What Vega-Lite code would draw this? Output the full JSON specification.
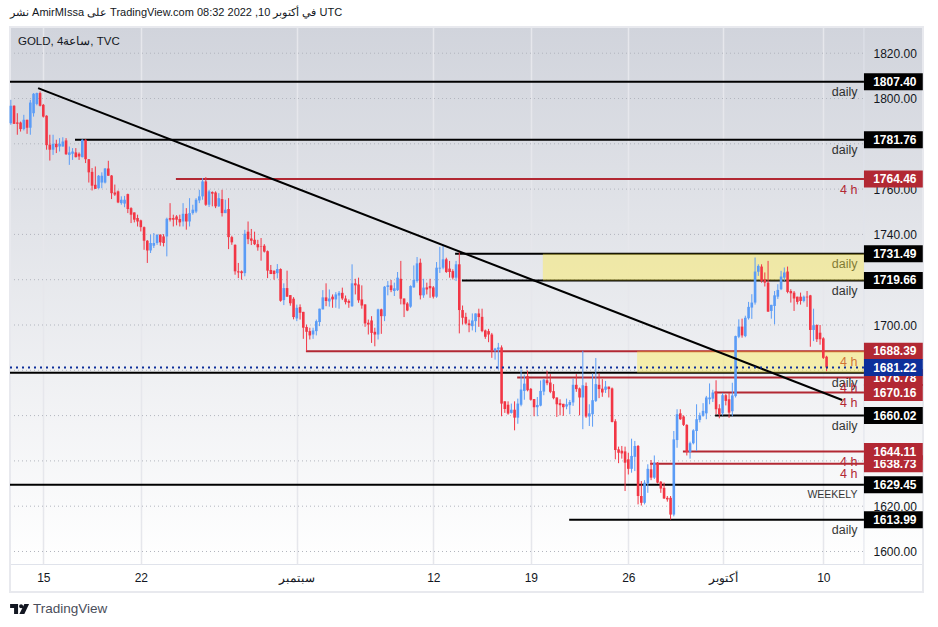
{
"$schema":"https://vega.github.io/schema/vega-lite/v6.json",
"width":913,"height":537,
"autosize":"none",
"padding":{"left":10,"top":27,"right":15,"bottom":63},
"background":"#ffffff",
"view":{"stroke":"#e0e3eb","fill":{"gradient":"linear","x1":0,"y1":0,"x2":0,"y2":1,"stops":[{"offset":0,"color":"#d1d4dc"},{"offset":1,"color":"#ffffff"}]}},
"config":{"font":"Liberation Sans"},
"title":{"text":"نشر AmirMIssa على TradingView.com 08:32 2022 ,10 في أكتوبر UTC","anchor":"start","frame":"group","offset":8,"fontSize":11,"fontWeight":"normal","color":"#131722"},
"datasets":{
"grid":[{"p":1600},{"p":1620},{"p":1640},{"p":1660},{"p":1680},{"p":1700},{"p":1720},{"p":1740},{"p":1760},{"p":1780},{"p":1800},{"p":1820}],
"levels":[
{"p":1807.40,"from":-10.25,"kind":"daily"},
{"p":1781.76,"from":9.75,"kind":"daily"},
{"p":1764.46,"from":40.8,"kind":"4 h"},
{"p":1731.49,"from":126.7,"kind":"daily"},
{"p":1719.66,"from":128.8,"kind":"daily"},
{"p":1688.39,"from":80.8,"kind":"4 h"},
{"p":1678.90,"from":-10.25,"kind":"daily"},
{"p":1676.78,"from":145.8,"kind":"4 h"},
{"p":1670.16,"from":206.5,"kind":"4 h"},
{"p":1660.02,"from":206.7,"kind":"daily"},
{"p":1644.11,"from":196.8,"kind":"4 h"},
{"p":1638.73,"from":186.7,"kind":"4 h"},
{"p":1629.45,"from":-10.25,"kind":"WEEKELY"},
{"p":1613.99,"from":161.8,"kind":"daily"}],
"boxes":[{"from":153.7,"top":1731.49,"bottom":1719.66},{"from":182.7,"top":1688.39,"bottom":1678.90}],
"tagsLow":[{"p":1676.78,"kind":"4 h"},{"p":1638.73,"kind":"4 h"}],
"tagsHigh":[
{"p":1807.40,"kind":"daily"},{"p":1781.76,"kind":"daily"},{"p":1764.46,"kind":"4 h"},{"p":1731.49,"kind":"daily"},{"p":1719.66,"kind":"daily"},
{"p":1688.39,"kind":"4 h"},{"p":1670.16,"kind":"4 h"},{"p":1681.22,"kind":"last"},{"p":1660.02,"kind":"daily"},{"p":1644.11,"kind":"4 h"},{"p":1629.45,"kind":"WEEKELY"},{"p":1613.99,"kind":"daily"}],
"candles":[
{"i":-10,"o":1789.1,"h":1799.4,"l":1788.4,"c":1796.8},{"i":-9,"o":1796.8,"h":1797,"l":1788.8,"c":1788.8},{"i":-8,"o":1789.4,"h":1793.5,"l":1784,"c":1788.8},{"i":-7,"o":1789.4,"h":1789.8,"l":1785.4,"c":1786.5},{"i":-6,"o":1786.5,"h":1792.8,"l":1785.9,"c":1790.6},{"i":-5,"o":1790.6,"h":1790.6,"l":1784.4,"c":1787.1},{"i":-4,"o":1787.1,"h":1799.4,"l":1784,"c":1798.2},{"i":-3,"o":1793.5,"h":1802.4,"l":1792,"c":1802.1},{"i":-2,"o":1797.6,"h":1802.6,"l":1797,"c":1802.4},{"i":-1,"o":1802.4,"h":1803.1,"l":1796.5,"c":1796.8},
{"i":0,"o":1797.2,"h":1797.6,"l":1791.6,"c":1792},{"i":1,"o":1792.4,"h":1792.6,"l":1777.4,"c":1779.4},{"i":2,"o":1779.6,"h":1784,"l":1772.6,"c":1777.4},{"i":3,"o":1777.4,"h":1784,"l":1775.1,"c":1780},{"i":4,"o":1780,"h":1781.8,"l":1775.9,"c":1778.5},{"i":5,"o":1778.8,"h":1782.5,"l":1776.6,"c":1780},{"i":6,"o":1778.8,"h":1782.9,"l":1778.8,"c":1781},{"i":7,"o":1781.5,"h":1782.5,"l":1775.1,"c":1775.4},{"i":8,"o":1775.1,"h":1778.8,"l":1770.7,"c":1776.2},{"i":9,"o":1775.6,"h":1778.1,"l":1772.9,"c":1776.6},
{"i":10,"o":1776.2,"h":1778.1,"l":1774,"c":1774.1},{"i":11,"o":1775.6,"h":1776.2,"l":1772.9,"c":1774.4},{"i":12,"o":1774.1,"h":1782,"l":1774,"c":1781.8},{"i":13,"o":1781.8,"h":1782,"l":1771.5,"c":1773.2},{"i":14,"o":1773.2,"h":1773.2,"l":1762.9,"c":1767.4},{"i":15,"o":1767.6,"h":1769.3,"l":1759.4,"c":1761.5},{"i":16,"o":1761.9,"h":1770,"l":1760.1,"c":1760.1},{"i":17,"o":1760.4,"h":1766.2,"l":1760.2,"c":1765.9},{"i":18,"o":1762.9,"h":1767.4,"l":1760.4,"c":1765.9},{"i":19,"o":1762.9,"h":1769.3,"l":1762.5,"c":1769.1},
{"i":20,"o":1769.1,"h":1772.5,"l":1765.9,"c":1765.9},{"i":21,"o":1766,"h":1766.2,"l":1755.6,"c":1758.2},{"i":22,"o":1758.5,"h":1762,"l":1757,"c":1757.6},{"i":23,"o":1759,"h":1759.4,"l":1753.8,"c":1754.1},{"i":24,"o":1753.8,"h":1756.8,"l":1753.1,"c":1755.3},{"i":25,"o":1753.6,"h":1757,"l":1752,"c":1755.3},{"i":26,"o":1757.8,"h":1758,"l":1749.4,"c":1751.2},{"i":27,"o":1751.6,"h":1752,"l":1745,"c":1748.7},{"i":28,"o":1749.7,"h":1749.7,"l":1745.3,"c":1746.5},{"i":29,"o":1747.2,"h":1748.7,"l":1743.5,"c":1745.7},
{"i":30,"o":1746.2,"h":1746.5,"l":1741.3,"c":1743.2},{"i":31,"o":1743.2,"h":1743.5,"l":1733.2,"c":1737.2},{"i":32,"o":1737.2,"h":1737.5,"l":1727.4,"c":1732.9},{"i":33,"o":1732.9,"h":1739.9,"l":1731.8,"c":1736.2},{"i":34,"o":1735,"h":1740.6,"l":1734,"c":1736.2},{"i":35,"o":1736.2,"h":1739.9,"l":1735.4,"c":1739.9},{"i":36,"o":1739.9,"h":1740,"l":1735,"c":1736.5},{"i":37,"o":1739.1,"h":1740.1,"l":1734.7,"c":1736.2},{"i":38,"o":1739.1,"h":1747.4,"l":1730.3,"c":1746.9},{"i":39,"o":1747.2,"h":1753.8,"l":1745.7,"c":1746.5},
{"i":40,"o":1747.2,"h":1748.7,"l":1743.5,"c":1746.5},{"i":41,"o":1747.9,"h":1748.5,"l":1744,"c":1746.5},{"i":42,"o":1746.8,"h":1748.7,"l":1743.5,"c":1745.3},{"i":43,"o":1745.7,"h":1753.8,"l":1743.5,"c":1749.1},{"i":44,"o":1749.1,"h":1751.6,"l":1742.1,"c":1745.7},{"i":45,"o":1745.7,"h":1756,"l":1743.5,"c":1749.4},{"i":46,"o":1749.4,"h":1753.1,"l":1748.7,"c":1750.9},{"i":47,"o":1750.1,"h":1756,"l":1749.4,"c":1755.3},{"i":48,"o":1755,"h":1759.7,"l":1753.8,"c":1756.8},{"i":49,"o":1756.8,"h":1764.9,"l":1755.3,"c":1763.4},
{"i":50,"o":1763.4,"h":1765.3,"l":1752.6,"c":1753.1},{"i":51,"o":1753.1,"h":1759.7,"l":1752.1,"c":1759},{"i":52,"o":1758.7,"h":1759,"l":1752.4,"c":1758},{"i":53,"o":1758.5,"h":1759,"l":1751.6,"c":1752.4},{"i":54,"o":1752.4,"h":1758.2,"l":1752.1,"c":1756},{"i":55,"o":1755.6,"h":1759.7,"l":1747.9,"c":1749.4},{"i":56,"o":1749.4,"h":1755.3,"l":1749.4,"c":1750.9},{"i":57,"o":1751.2,"h":1756,"l":1733.5,"c":1738.8},{"i":58,"o":1738.8,"h":1739.4,"l":1735.4,"c":1736.5},{"i":59,"o":1735.4,"h":1735.6,"l":1722.2,"c":1723.7},
{"i":60,"o":1723.7,"h":1727.4,"l":1720.7,"c":1723.2},{"i":61,"o":1723.7,"h":1724.1,"l":1720,"c":1722.9},{"i":62,"o":1722.9,"h":1742,"l":1721.5,"c":1740.3},{"i":63,"o":1741.2,"h":1745.7,"l":1735.7,"c":1737.9},{"i":64,"o":1738.2,"h":1742.4,"l":1735.3,"c":1737.2},{"i":65,"o":1737.6,"h":1741.2,"l":1735.3,"c":1735.7},{"i":66,"o":1735.7,"h":1737.6,"l":1732.8,"c":1734.3},{"i":67,"o":1734.7,"h":1738.4,"l":1728.4,"c":1734.5},{"i":68,"o":1735,"h":1735.7,"l":1732,"c":1732.4},{"i":69,"o":1732.6,"h":1732.9,"l":1720.7,"c":1724},
{"i":70,"o":1724.3,"h":1726.5,"l":1722.5,"c":1722.5},{"i":71,"o":1724,"h":1724,"l":1720,"c":1722.5},{"i":72,"o":1722.9,"h":1726.9,"l":1720.6,"c":1724.7},{"i":73,"o":1724.7,"h":1725,"l":1710.3,"c":1710.7},{"i":74,"o":1711,"h":1718.4,"l":1708.8,"c":1716.3},{"i":75,"o":1716.3,"h":1724,"l":1712.5,"c":1712.5},{"i":76,"o":1713.2,"h":1713.2,"l":1708.5,"c":1709.6},{"i":77,"o":1711.6,"h":1712.3,"l":1702.5,"c":1703.5},{"i":78,"o":1702.9,"h":1709,"l":1701.7,"c":1707.6},{"i":79,"o":1707.9,"h":1709.1,"l":1702.4,"c":1705.4},
{"i":80,"o":1705.8,"h":1705.8,"l":1693.9,"c":1698.8},{"i":81,"o":1699.1,"h":1700.2,"l":1688.4,"c":1697},{"i":82,"o":1697.3,"h":1698.8,"l":1693.6,"c":1695.4},{"i":83,"o":1695.8,"h":1698.8,"l":1693.9,"c":1697.6},{"i":84,"o":1697.3,"h":1702.4,"l":1695.4,"c":1701.7},{"i":85,"o":1701.3,"h":1707.2,"l":1699.5,"c":1707.2},{"i":86,"o":1706.9,"h":1715.4,"l":1706.9,"c":1712.2},{"i":87,"o":1712.2,"h":1718.4,"l":1708.3,"c":1710.6},{"i":88,"o":1710.4,"h":1715.7,"l":1708.1,"c":1711.7},{"i":89,"o":1712.5,"h":1713.5,"l":1707.6,"c":1711.3},
{"i":90,"o":1711.3,"h":1714.5,"l":1707.6,"c":1713.5},{"i":91,"o":1713,"h":1715,"l":1707.2,"c":1714.2},{"i":92,"o":1714.2,"h":1716.5,"l":1711,"c":1711.7},{"i":93,"o":1711.7,"h":1713,"l":1709.1,"c":1710.1},{"i":94,"o":1710.6,"h":1711.3,"l":1707.6,"c":1709.8},{"i":95,"o":1708.3,"h":1726.8,"l":1708,"c":1718.4},{"i":96,"o":1718.4,"h":1720.4,"l":1713.5,"c":1717.5},{"i":97,"o":1717.9,"h":1720.9,"l":1709.8,"c":1710.9},{"i":98,"o":1711.3,"h":1717.5,"l":1707.2,"c":1708.6},{"i":99,"o":1709.1,"h":1709.1,"l":1699.2,"c":1700.7},
{"i":100,"o":1701,"h":1702.4,"l":1695.8,"c":1700.2},{"i":101,"o":1702,"h":1703.9,"l":1692.1,"c":1696.5},{"i":102,"o":1697,"h":1698.8,"l":1690.6,"c":1695.8},{"i":103,"o":1695.8,"h":1707.2,"l":1693.6,"c":1706.9},{"i":104,"o":1706.9,"h":1707.2,"l":1696.1,"c":1703.9},{"i":105,"o":1703.9,"h":1717.2,"l":1701.7,"c":1716.9},{"i":106,"o":1716.8,"h":1719.4,"l":1713.1,"c":1717.5},{"i":107,"o":1717.5,"h":1719.9,"l":1714.5,"c":1715.4},{"i":108,"o":1715,"h":1718.7,"l":1712.8,"c":1716.2},{"i":109,"o":1715.4,"h":1723.4,"l":1715,"c":1720.9},
{"i":110,"o":1720.4,"h":1728.3,"l":1709.1,"c":1711.6},{"i":111,"o":1711.7,"h":1711.7,"l":1703.5,"c":1709.1},{"i":112,"o":1709.5,"h":1710.1,"l":1706.1,"c":1706.4},{"i":113,"o":1708.1,"h":1717.5,"l":1707.6,"c":1717.2},{"i":114,"o":1716.6,"h":1726.3,"l":1716.5,"c":1719.9},{"i":115,"o":1719.4,"h":1730,"l":1718.7,"c":1727.2},{"i":116,"o":1727.5,"h":1729.3,"l":1711.3,"c":1713.1},{"i":117,"o":1713.1,"h":1720.4,"l":1712,"c":1716.5},{"i":118,"o":1716.6,"h":1718.7,"l":1713.5,"c":1715.7},{"i":119,"o":1717.2,"h":1720.4,"l":1712,"c":1716.2},
{"i":120,"o":1716.6,"h":1717.2,"l":1711.7,"c":1712.5},{"i":121,"o":1712.5,"h":1727.8,"l":1712,"c":1725.3},{"i":122,"o":1724.9,"h":1734.5,"l":1723,"c":1725.3},{"i":123,"o":1725.3,"h":1735.6,"l":1724.6,"c":1729},{"i":124,"o":1729,"h":1729.7,"l":1723,"c":1723.4},{"i":125,"o":1724.9,"h":1728.3,"l":1720.9,"c":1723.4},{"i":126,"o":1723.8,"h":1724.6,"l":1720.1,"c":1720.9},{"i":127,"o":1720.9,"h":1728.3,"l":1719.4,"c":1726.8},{"i":128,"o":1726.8,"h":1732.7,"l":1696.3,"c":1706.6},{"i":129,"o":1706.6,"h":1708.6,"l":1700.2,"c":1703.2},
{"i":130,"o":1703.6,"h":1705.4,"l":1700.2,"c":1700.7},{"i":131,"o":1700.7,"h":1702.4,"l":1696.8,"c":1699.9},{"i":132,"o":1699.5,"h":1705.1,"l":1697.6,"c":1702},{"i":133,"o":1701.7,"h":1705.1,"l":1696.8,"c":1705.1},{"i":134,"o":1705.1,"h":1707.2,"l":1699.2,"c":1703.5},{"i":135,"o":1703.6,"h":1707.2,"l":1696.8,"c":1697.3},{"i":136,"o":1697.6,"h":1698,"l":1693.9,"c":1694.8},{"i":137,"o":1697.3,"h":1698.3,"l":1692.4,"c":1695.8},{"i":138,"o":1695.8,"h":1696.5,"l":1685.5,"c":1688.7},{"i":139,"o":1688.7,"h":1689.9,"l":1684.7,"c":1689.6},
{"i":140,"o":1689.2,"h":1692.1,"l":1680.3,"c":1690.1},{"i":141,"o":1690.1,"h":1691,"l":1659.7,"c":1665.3},{"i":142,"o":1666.3,"h":1666.3,"l":1661.2,"c":1662.9},{"i":143,"o":1664.8,"h":1666.3,"l":1660.4,"c":1660.9},{"i":144,"o":1661.2,"h":1665.3,"l":1660.9,"c":1662.6},{"i":145,"o":1662.6,"h":1666.3,"l":1653.5,"c":1659.1},{"i":146,"o":1659.1,"h":1667.5,"l":1656.4,"c":1665.3},{"i":147,"o":1664.8,"h":1680.3,"l":1664.1,"c":1671.5},{"i":148,"o":1670.9,"h":1678.1,"l":1667,"c":1674.1},{"i":149,"o":1677.4,"h":1679.9,"l":1670.7,"c":1671.2},
{"i":150,"o":1671.8,"h":1672.2,"l":1666.6,"c":1667},{"i":151,"o":1667.3,"h":1667.3,"l":1659.7,"c":1663.7},{"i":152,"o":1663.7,"h":1668.2,"l":1659.7,"c":1664.7},{"i":153,"o":1664.4,"h":1675.5,"l":1664.1,"c":1670.9},{"i":154,"o":1670.6,"h":1676.2,"l":1669,"c":1675.9},{"i":155,"o":1675.6,"h":1679.8,"l":1673.4,"c":1674.3},{"i":156,"o":1674.6,"h":1678.3,"l":1669.9,"c":1670.5},{"i":157,"o":1670.8,"h":1673.9,"l":1667.2,"c":1667.7},{"i":158,"o":1668,"h":1668,"l":1659.4,"c":1665},{"i":159,"o":1665.5,"h":1667.2,"l":1660.1,"c":1664.6},
{"i":160,"o":1665.2,"h":1665.2,"l":1659.9,"c":1663.7},{"i":161,"o":1664,"h":1667.5,"l":1662.8,"c":1665},{"i":162,"o":1664.6,"h":1666.9,"l":1660.6,"c":1666},{"i":163,"o":1665.8,"h":1676.4,"l":1664.3,"c":1673.6},{"i":164,"o":1673.6,"h":1678.3,"l":1670.5,"c":1671.7},{"i":165,"o":1672,"h":1672.4,"l":1660.1,"c":1668},{"i":166,"o":1668,"h":1688.6,"l":1654,"c":1673.4},{"i":167,"o":1673.1,"h":1674.6,"l":1659,"c":1659.6},{"i":168,"o":1659.6,"h":1665,"l":1655.4,"c":1661},{"i":169,"o":1660.6,"h":1678.6,"l":1655.1,"c":1666.8},
{"i":170,"o":1666.5,"h":1685.4,"l":1666,"c":1673.9},{"i":171,"o":1673.6,"h":1678.6,"l":1667.7,"c":1671.7},{"i":172,"o":1671.9,"h":1676.1,"l":1668.3,"c":1670.2},{"i":173,"o":1671.4,"h":1675.3,"l":1670,"c":1672.8},{"i":174,"o":1672.8,"h":1672.8,"l":1668,"c":1671.7},{"i":175,"o":1672,"h":1672.4,"l":1657,"c":1657.2},{"i":176,"o":1657.5,"h":1658.4,"l":1640.7,"c":1644.8},{"i":177,"o":1645.1,"h":1646.3,"l":1639,"c":1643.6},{"i":178,"o":1644.5,"h":1646.6,"l":1641,"c":1643.3},{"i":179,"o":1644.2,"h":1646.3,"l":1626.7,"c":1639.2},
{"i":180,"o":1640.7,"h":1643.6,"l":1634,"c":1636.5},{"i":181,"o":1636.5,"h":1649.8,"l":1634.8,"c":1642.2},{"i":182,"o":1641.8,"h":1648.8,"l":1635.5,"c":1646.6},{"i":183,"o":1646.6,"h":1647,"l":1620.8,"c":1624.5},{"i":184,"o":1624.5,"h":1631.1,"l":1620.3,"c":1621.5},{"i":185,"o":1621.5,"h":1631.5,"l":1620.8,"c":1630.4},{"i":186,"o":1630,"h":1638.5,"l":1625.9,"c":1636.5},{"i":187,"o":1636.3,"h":1640.4,"l":1631.5,"c":1632.6},{"i":188,"o":1632.6,"h":1642.4,"l":1632,"c":1639.2},{"i":189,"o":1639.2,"h":1639.5,"l":1630,"c":1630.4},
{"i":190,"o":1630.8,"h":1631.1,"l":1625.9,"c":1627.8},{"i":191,"o":1628.1,"h":1630.4,"l":1623.2,"c":1623.4},{"i":192,"o":1623.7,"h":1624.5,"l":1622,"c":1623},{"i":193,"o":1623.7,"h":1624.5,"l":1614.1,"c":1616.3},{"i":194,"o":1616.3,"h":1653.2,"l":1615.5,"c":1649.5},{"i":195,"o":1649.2,"h":1662.8,"l":1645.8,"c":1660.6},{"i":196,"o":1661,"h":1662.8,"l":1658.1,"c":1658.4},{"i":197,"o":1659.6,"h":1660.1,"l":1655.4,"c":1655.9},{"i":198,"o":1655.9,"h":1656.2,"l":1642.4,"c":1643.9},{"i":199,"o":1643.9,"h":1648.5,"l":1641,"c":1647.8},
{"i":200,"o":1647.8,"h":1654,"l":1647.3,"c":1653.5},{"i":201,"o":1653.2,"h":1665,"l":1644.4,"c":1658.4},{"i":202,"o":1658.1,"h":1661.3,"l":1657,"c":1660.1},{"i":203,"o":1659.9,"h":1665.5,"l":1659.5,"c":1662.1},{"i":204,"o":1661,"h":1668.7,"l":1658.4,"c":1668},{"i":205,"o":1667.2,"h":1674.2,"l":1665,"c":1668},{"i":206,"o":1667.5,"h":1671.4,"l":1666,"c":1670.2},{"i":207,"o":1670.6,"h":1675.6,"l":1660.6,"c":1662.8},{"i":208,"o":1663.2,"h":1665,"l":1658.8,"c":1660.6},{"i":209,"o":1661,"h":1670,"l":1660,"c":1669},
{"i":210,"o":1669,"h":1669.5,"l":1664.5,"c":1666.5},{"i":211,"o":1667.2,"h":1670,"l":1659,"c":1661.3},{"i":212,"o":1661.9,"h":1674.5,"l":1659.7,"c":1668.9},{"i":213,"o":1668.6,"h":1695.3,"l":1668,"c":1695.1},{"i":214,"o":1694.8,"h":1702.5,"l":1694.2,"c":1699.3},{"i":215,"o":1699.3,"h":1702.8,"l":1694.4,"c":1695.4},{"i":216,"o":1695.1,"h":1704.1,"l":1694.6,"c":1703.2},{"i":217,"o":1703,"h":1710.2,"l":1702.4,"c":1708},{"i":218,"o":1707.7,"h":1713.6,"l":1702.7,"c":1709.9},{"i":219,"o":1709.9,"h":1729.8,"l":1709,"c":1723.6},
{"i":220,"o":1723.5,"h":1726.8,"l":1721.7,"c":1726.1},{"i":221,"o":1725.8,"h":1726.8,"l":1718.7,"c":1719.5},{"i":222,"o":1720.2,"h":1723.2,"l":1717,"c":1718.7},{"i":223,"o":1718.7,"h":1728.3,"l":1705.8,"c":1705.9},{"i":224,"o":1706.2,"h":1708.9,"l":1702.8,"c":1708.9},{"i":225,"o":1708.4,"h":1715,"l":1700.3,"c":1713.1},{"i":226,"o":1712.5,"h":1718,"l":1711.5,"c":1715.5},{"i":227,"o":1715.8,"h":1723.9,"l":1715.4,"c":1721.4},{"i":228,"o":1720.9,"h":1725.4,"l":1719.5,"c":1723.2},{"i":229,"o":1723.6,"h":1725.8,"l":1714,"c":1714.6},
{"i":230,"o":1715,"h":1715.8,"l":1709.9,"c":1714},{"i":231,"o":1714.3,"h":1715,"l":1706.2,"c":1711.7},{"i":232,"o":1712.5,"h":1712.5,"l":1709.1,"c":1710.2},{"i":233,"o":1712.5,"h":1714.3,"l":1709,"c":1710.6},{"i":234,"o":1710.6,"h":1713,"l":1710,"c":1712.5},{"i":235,"o":1712.5,"h":1715,"l":1708,"c":1712.2},{"i":236,"o":1713.1,"h":1713.3,"l":1690.4,"c":1697.8},{"i":237,"o":1697.8,"h":1707.2,"l":1692.9,"c":1699.9},{"i":238,"o":1700,"h":1700.3,"l":1692.5,"c":1693.7},{"i":239,"o":1696.6,"h":1700,"l":1691.3,"c":1693.7},
{"i":240,"o":1694.1,"h":1694.6,"l":1685,"c":1685.5},{"i":241,"o":1686,"h":1686.4,"l":1679.6,"c":1681.22}]
},
"layer":[
{"data":{"name":"grid"},"mark":{"type":"rule","color":"#b2b5be","strokeDash":[1,3],"strokeWidth":1},
 "encoding":{
  "x":{"datum":-10.25,"type":"quantitative","title":null,"scale":{"domain":[-10.25,270.67],"nice":false,"zero":false,"padding":0},
   "axis":{"values":[0,30,78,120,150,180,209,240],"labelExpr":"{'0':'15','30':'22','78':'سبتمبر','120':'12','150':'19','180':'26','209':'أكتوبر','240':'10'}[datum.value]","grid":true,"gridColor":"#e6e7ec","gridWidth":1.5,"ticks":false,"domain":false,"labelPadding":8,"labelFontSize":12,"labelColor":"#131722","labelFont":"Liberation Sans","labelOverlap":false,"title":null}},
  "x2":{"datum":252.5},
  "y":{"field":"p","type":"quantitative","title":null,"scale":{"domain":[1594.48,1831.57],"nice":false,"zero":false,"padding":0},
   "axis":{"orient":"right","values":[1600,1620,1640,1660,1680,1700,1720,1740,1760,1780,1800,1820],"format":".2f","grid":false,"ticks":false,"domain":false,"labelPadding":-50,"labelAlign":"left","labelFontSize":12,"labelColor":"#131722","labelFont":"Liberation Sans","labelOverlap":false,"title":null}}}},
{"data":{"values":[{"x":252.5}]},"mark":{"type":"rule","color":"#e0e3eb","strokeWidth":1},"encoding":{"x":{"field":"x","type":"quantitative"}}},
{"data":{"values":[{"x":-10.25,"x2":270.67,"y":1831.57,"y2":1582.1}]},"mark":{"type":"rect","fill":null,"stroke":"#e8e9ee","strokeWidth":2,"clip":false},
 "encoding":{"x":{"field":"x","type":"quantitative"},"x2":{"field":"x2"},"y":{"field":"y","type":"quantitative"},"y2":{"field":"y2"}}},
{"data":{"name":"levels"},"mark":{"type":"rule","strokeWidth":2},
 "encoding":{"x":{"field":"from","type":"quantitative"},"x2":{"datum":252.5},"y":{"field":"p","type":"quantitative"},
  "color":{"field":"kind","type":"nominal","legend":null,"scale":{"domain":["daily","WEEKELY","4 h","last"],"range":["#000000","#000000","#b22833","#0d2f9a"]}}}},
{"data":{"name":"levels"},"mark":{"type":"text","align":"right","baseline":"middle","dy":10.5,"font":"Liberation Sans"},
 "encoding":{"x":{"datum":250.5,"type":"quantitative"},"y":{"field":"p","type":"quantitative"},"text":{"field":"kind"},
  "size":{"condition":{"test":"datum.kind=='WEEKELY'","value":10.5},"value":12.5},
  "opacity":{"condition":{"test":"datum.kind=='4 h'","value":1},"value":0.8},
  "color":{"field":"kind","type":"nominal","legend":null}}},
{"data":{"name":"boxes"},"mark":{"type":"rect","color":"#ffeb3b","opacity":0.39},
 "encoding":{"x":{"field":"from","type":"quantitative"},"x2":{"datum":252.5},"y":{"field":"top","type":"quantitative"},"y2":{"field":"bottom"}}},
{"data":{"name":"candles"},"mark":{"type":"rule","strokeWidth":1},
 "encoding":{"x":{"field":"i","type":"quantitative"},"y":{"field":"h","type":"quantitative"},"y2":{"field":"l"},
  "color":{"condition":{"test":"datum.c>=datum.o","value":"#5b9cf6"},"value":"#f23645"}}},
{"data":{"name":"candles"},"mark":{"type":"bar","size":2.6},
 "encoding":{"x":{"field":"i","type":"quantitative"},"y":{"field":"o","type":"quantitative"},"y2":{"field":"c"},
  "color":{"condition":{"test":"datum.c>=datum.o","value":"#5b9cf6"},"value":"#f23645"}}},
{"data":{"values":[{"x":-1.6,"x2":245.8,"y":1804.6,"y2":1666.9}]},"mark":{"type":"rule","color":"#000000","strokeWidth":2},
 "encoding":{"x":{"field":"x","type":"quantitative"},"x2":{"field":"x2"},"y":{"field":"y","type":"quantitative"},"y2":{"field":"y2"}}},
{"data":{"values":[{"p":1681.22}]},"mark":{"type":"rule","color":"#0d2f9a","strokeWidth":2,"strokeDash":[2,4]},
 "encoding":{"x":{"datum":-10.25,"type":"quantitative"},"x2":{"datum":252.5},"y":{"field":"p","type":"quantitative"}}},
{"data":{"values":[{"x":-7.8,"y":1825,"t":"GOLD, 4ساعة, TVC"}]},"mark":{"type":"text","align":"left","baseline":"middle","fontSize":11.5,"font":"Liberation Sans","color":"#131722"},
 "encoding":{"x":{"field":"x","type":"quantitative"},"y":{"field":"y","type":"quantitative"},"text":{"field":"t"}}},
{"data":{"name":"tagsLow"},"mark":{"type":"rule","strokeWidth":17},
 "encoding":{"x":{"datum":252.5,"type":"quantitative"},"x2":{"datum":270.6},"y":{"field":"p","type":"quantitative"},"color":{"field":"kind","type":"nominal","legend":null}}},
{"data":{"name":"tagsLow"},"mark":{"type":"text","align":"center","baseline":"middle","fontSize":12,"fontWeight":"bold","font":"Liberation Sans","color":"#ffffff"},
 "encoding":{"x":{"datum":262,"type":"quantitative"},"y":{"field":"p","type":"quantitative"},"text":{"field":"p","type":"quantitative","format":".2f"}}},
{"data":{"name":"tagsHigh"},"mark":{"type":"rule","strokeWidth":17},
 "encoding":{"x":{"datum":252.5,"type":"quantitative"},"x2":{"datum":270.6},"y":{"field":"p","type":"quantitative"},"color":{"field":"kind","type":"nominal","legend":null}}},
{"data":{"name":"tagsHigh"},"mark":{"type":"text","align":"center","baseline":"middle","fontSize":12,"fontWeight":"bold","font":"Liberation Sans","color":"#ffffff"},
 "encoding":{"x":{"datum":262,"type":"quantitative"},"y":{"field":"p","type":"quantitative"},"text":{"field":"p","type":"quantitative","format":".2f"}}},
{"data":{"values":[{"x":-7.3,"y":1574.6}]},"mark":{"type":"point","filled":true,"size":361,"opacity":1,"color":"#131722","shape":"M-1 -0.53H-0.16V0.53H-0.58V-0.1H-1ZM0.37 -0.3A0.21 0.21 0 1 1 -0.05 -0.3A0.21 0.21 0 1 1 0.37 -0.3ZM0.5 -0.53H1L0.5 0.53H-0.02Z"},
 "encoding":{"x":{"field":"x","type":"quantitative"},"y":{"field":"y","type":"quantitative"}}},
{"data":{"values":[{"x":-3.2,"y":1574.6,"t":"TradingView"}]},"mark":{"type":"text","align":"left","baseline":"middle","fontSize":13.5,"font":"Liberation Sans","color":"#4a4e5a"},
 "encoding":{"x":{"field":"x","type":"quantitative"},"y":{"field":"y","type":"quantitative"},"text":{"field":"t"}}}
]
}
